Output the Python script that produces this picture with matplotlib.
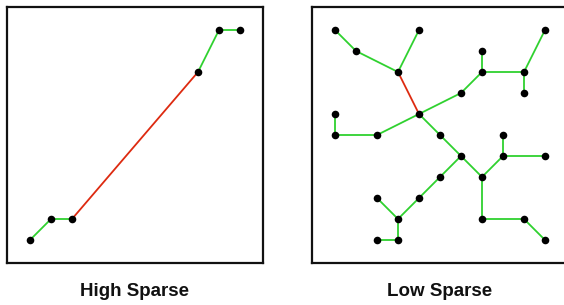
import matplotlib
matplotlib.use("Agg")
import matplotlib.pyplot as plt

plt.rcParams["font.family"] = ["Liberation Sans", "DejaVu Sans"]

# High sparse graph: grid positions (column, row from top)
high_x = [0, 1, 2, 8, 9, 10]
high_y = [10, 9, 9, 2, 0, 0]
high_edges = [(0, 1), (1, 2), (2, 3), (3, 4), (4, 5)]
high_long = [(2, 3)]

# Low sparse graph
low_x = [0, 1, 4, 3, 10, 7, 7, 9, 9, 6, 4, 0, 0, 2, 5, 8,
         6, 8, 10, 7, 5, 4, 2, 3, 7, 9, 10, 2, 3]
low_y = [0, 1, 0, 2, 0, 1, 2, 2, 3, 3, 4, 4, 5, 5, 5, 5,
         6, 6, 6, 7, 7, 8, 8, 9, 9, 9, 10, 10, 10]
low_edges = [(0, 1), (1, 3), (2, 3), (3, 10), (10, 9), (9, 6), (6, 5),
             (6, 7), (7, 4), (7, 8), (10, 13), (13, 12), (12, 11),
             (10, 14), (14, 16), (16, 19), (19, 17), (17, 15), (17, 18),
             (19, 24), (24, 25), (25, 26), (16, 20), (20, 21), (21, 23),
             (23, 22), (23, 28), (28, 27)]
low_long = [(3, 10)]

titles = ["High Sparse", "Low Sparse"]

GREEN = "#2fd12f"
RED = "#dd2a10"

W, H = 564, 305
fig = plt.figure(figsize=(W / 100, H / 100), dpi=100)


def draw(ax, xs, ys, edges, long_edges):
    for a, b in edges:
        color = RED if (a, b) in long_edges else GREEN
        ax.plot([xs[a], xs[b]], [ys[a], ys[b]], color=color, lw=1.3,
                zorder=1, solid_capstyle="round")
    ax.scatter(xs, ys, s=30, color="black", zorder=2, linewidths=0)
    ax.set_xlim(-1.095, 11.095)
    ax.set_ylim(11.095, -1.095)
    ax.set_xticks([])
    ax.set_yticks([])
    for sp in ax.spines.values():
        sp.set_linewidth(1.6)
        sp.set_color("#111111")


ax1 = fig.add_axes([7 / W, (H - 263) / H, 256 / W, 256 / H])
draw(ax1, high_x, high_y, high_edges, high_long)

ax2 = fig.add_axes([312 / W, (H - 263) / H, 256 / W, 256 / H])
draw(ax2, low_x, low_y, low_edges, low_long)

fig.text(135 / W, 1 - 291 / H, titles[0], ha="center", va="center",
         fontsize=13.5, fontweight="bold", color="#111111")
fig.text(440 / W, 1 - 291 / H, titles[1], ha="center", va="center",
         fontsize=13.5, fontweight="bold", color="#111111")

fig.savefig("out.png", dpi=100)
